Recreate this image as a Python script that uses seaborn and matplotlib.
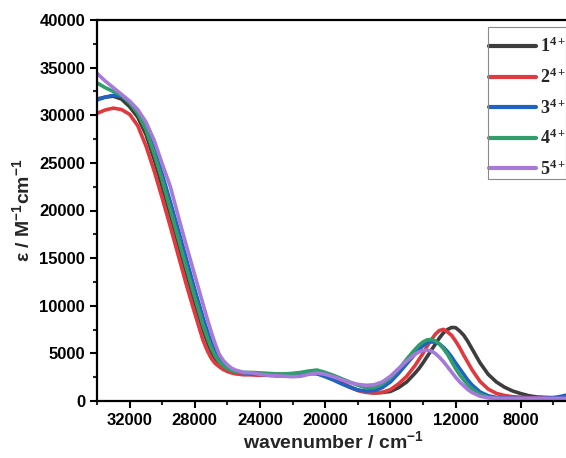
import numpy as np
import pandas as pd
import matplotlib
matplotlib.use("Agg")
import matplotlib.pyplot as plt
import seaborn as sns
from matplotlib.ticker import MultipleLocator
from matplotlib.patches import Rectangle

# Wavenumber grid (cm^-1); denser where the spectra bend sharply
wavenumber = [34000, 33500, 33000, 32500, 32000, 31500, 31000, 30500, 30000, 29500,
              29000, 28500, 28000, 27500, 27250, 27000, 26750, 26500, 26250, 26000,
              25750, 25500, 25000, 24500, 24000, 23500, 23000, 22500, 22000, 21500,
              21000, 20500, 20000, 19500, 19000, 18500, 18000, 17500, 17000, 16500,
              16000, 15500, 15000, 14500, 14250, 14000, 13750, 13500, 13250, 13000,
              12750, 12500, 12250, 12000, 11750, 11500, 11250, 11000, 10500, 10000,
              9500, 9000, 8500, 8000, 7500, 7000, 6500, 6000, 5500, 5000]

# Molar absorptivity (M^-1 cm^-1) for each complex
eps_1 = [31700, 31900, 32000, 31700, 30900, 29800, 28000, 25400, 22500, 19500,
         16400, 13300, 10300, 7500, 6300, 5200, 4450, 3900, 3500, 3250,
         3080, 2950, 2850, 2800, 2750, 2700, 2650, 2650, 2700, 2800,
         2900, 2900, 2650, 2300, 1900, 1500, 1150, 950, 850, 900,
         1000, 1400, 2000, 2900, 3400, 4000, 4650, 5300, 5950, 6600,
         7150, 7500, 7720, 7700, 7350, 6900, 6250, 5500, 4000, 2800,
         2000, 1450, 1050, 780, 550, 420, 380, 350, 350, 350]
eps_2 = [30200, 30550, 30750, 30600, 30100, 28900, 26800, 24200, 21300, 18300,
         15200, 12100, 9200, 6400, 5350, 4500, 3950, 3600, 3300, 3100,
         2950, 2850, 2750, 2750, 2700, 2700, 2700, 2750, 2850, 2950,
         3000, 3000, 2700, 2300, 1900, 1450, 1100, 900, 850, 900,
         1200, 1800, 2600, 3700, 4350, 5000, 5750, 6400, 7000, 7400,
         7520, 7250, 6900, 6300, 5600, 4800, 4050, 3300, 2050, 1250,
         800, 580, 450, 400, 350, 350, 330, 330, 330, 330]
eps_3 = [31600, 31900, 32100, 32000, 31400, 30400, 28800, 26500, 23800, 20900,
         17900, 14800, 11700, 8800, 7450, 6200, 5250, 4500, 3950, 3500,
         3250, 3100, 2950, 2850, 2800, 2750, 2700, 2700, 2750, 2850,
         2900, 2850, 2550, 2200, 1800, 1450, 1150, 1050, 1100, 1400,
         2000, 2900, 3900, 4900, 5400, 5800, 6100, 6200, 6180, 6000,
         5650, 5200, 4650, 4000, 3400, 2800, 2200, 1700, 950, 550,
         380, 320, 300, 280, 280, 280, 300, 350, 500, 700]
eps_4 = [33400, 32900, 32500, 32100, 31300, 30200, 28500, 26000, 23200, 20100,
         17000, 13900, 10900, 8000, 6750, 5600, 4750, 4100, 3700, 3400,
         3200, 3100, 3000, 3000, 2950, 2900, 2850, 2850, 2900, 3000,
         3150, 3250, 3000, 2700, 2350, 2000, 1650, 1400, 1400, 1800,
         2400, 3300, 4400, 5400, 5850, 6200, 6420, 6450, 6300, 6000,
         5500, 4900, 4150, 3400, 2750, 2200, 1700, 1300, 700, 400,
         280, 240, 220, 220, 220, 220, 220, 220, 220, 220]
eps_5 = [34400, 33600, 32900, 32200, 31500, 30600, 29300, 27400, 24900, 22500,
         19300, 16200, 13200, 10200, 8700, 7300, 6000, 4900, 4250, 3800,
         3450, 3250, 3000, 2950, 2800, 2700, 2650, 2600, 2550, 2600,
         2800, 2950, 2800, 2550, 2250, 1950, 1750, 1650, 1700, 2000,
         2600, 3400, 4200, 4900, 5150, 5300, 5330, 5250, 5000, 4600,
         4150, 3600, 3050, 2500, 2000, 1600, 1200, 900, 500, 330,
         300, 280, 280, 280, 280, 280, 280, 280, 280, 280]

series_labels = [r"$\mathbf{1^{4+}}$", r"$\mathbf{2^{4+}}$", r"$\mathbf{3^{4+}}$",
                 r"$\mathbf{4^{4+}}$", r"$\mathbf{5^{4+}}$"]
series_values = [eps_1, eps_2, eps_3, eps_4, eps_5]
colors = ["#3d3d3d", "#e0393e", "#1f63c6", "#2f9e6b", "#a67ad9"]

df = pd.concat(
    [pd.DataFrame({"wavenumber": wavenumber, "eps": vals, "complex": lab})
     for lab, vals in zip(series_labels, series_values)],
    ignore_index=True,
)

sns.set_style("ticks")
plt.rcParams["font.family"] = ["Liberation Sans", "DejaVu Sans"]
plt.rcParams["mathtext.fontset"] = "custom"
plt.rcParams["mathtext.bf"] = "Liberation Serif:bold"
plt.rcParams["mathtext.sf"] = "Liberation Sans:bold"
plt.rcParams["mathtext.rm"] = "Liberation Sans:bold"

fig = plt.figure(figsize=(5.66, 4.58), dpi=100)
ax = fig.add_axes([97 / 566, 1 - 401 / 458, 472.7 / 566, 381 / 458])

sns.lineplot(data=df, x="wavenumber", y="eps", hue="complex",
             palette=colors, hue_order=series_labels, linewidth=2.6,
             ax=ax, sort=False, estimator=None)
for ln in ax.get_lines():
    ln.set_solid_joinstyle("round")
    ln.set_solid_capstyle("round")

ax.set_xlim(34000, 5000)
ax.set_ylim(0, 40000)
ax.xaxis.set_minor_locator(MultipleLocator(2000))
ax.yaxis.set_major_locator(MultipleLocator(5000))
ax.yaxis.set_minor_locator(MultipleLocator(2500))
ax.set_xticks([32000, 28000, 24000, 20000, 16000, 12000, 8000])

for side in ["left", "bottom", "top"]:
    ax.spines[side].set_linewidth(1.6)
    ax.spines[side].set_color("black")
ax.spines["right"].set_visible(False)

ax.tick_params(which="major", direction="out", length=5, width=1.5,
               labelsize=12, colors="black")
ax.tick_params(which="minor", direction="out", length=3, width=1.5)
for lbl in ax.get_xticklabels() + ax.get_yticklabels():
    lbl.set_fontweight("bold")

ax.set_xlabel(r"wavenumber / cm$^{-1}$", fontsize=14, fontweight="bold", labelpad=2)
ax.set_ylabel(r"ε / M$^{-1}$cm$^{-1}$", fontsize=14, fontweight="bold", labelpad=4)

# Legend without its own frame; a thin grey box is drawn around it
leg = ax.legend(loc="upper left", bbox_to_anchor=(489 / 566, 1 - 37 / 458),
                bbox_transform=fig.transFigure, borderaxespad=0, borderpad=0,
                fontsize=13, frameon=False,
                handlelength=2.6, handletextpad=0.25, labelspacing=0.62,
                title=None)
for line in leg.get_lines():
    line.set_linewidth(3)
fig.add_artist(Rectangle((487.7 / 566, 1 - 179 / 458), (566 - 487.7) / 566, 152 / 458,
                         transform=fig.transFigure, fill=False,
                         edgecolor="#8a8a8a", linewidth=0.8))

fig.savefig("out.png", dpi=100)
